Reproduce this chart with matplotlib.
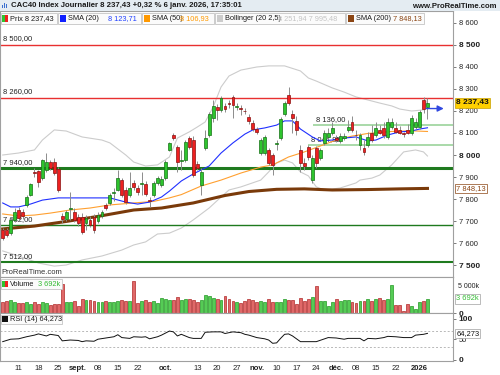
import numpy as np
import matplotlib
matplotlib.use('Agg')
import matplotlib.pyplot as plt
import matplotlib.transforms as mtransforms
from matplotlib.patches import Rectangle

plt.rcParams['font.family'] = ['Liberation Sans', 'DejaVu Sans']

W, H = 500, 375

# daily candles, 5 Aug 2025 .. 6 Jan 2026 (index = trading day)
opens = [7659, 7659, 7645, 7705, 7750, 7741, 7773, 7818, 7923, 7927,
         7895, 7932, 7968, 7968, 7936, 7723, 7709, 7755, 7741, 7718,
         7718, 7691, 7705, 7718, 7700, 7723, 7773, 7782, 7827, 7841,
         7886, 7841, 7818, 7873, 7850, 7868, 7868, 7795, 7818, 7873,
         7864, 7895, 8023, 8091, 8036, 7973, 7977, 8077, 8068, 7959,
         7864, 8032, 8091, 8168, 8218, 8205, 8223, 8236, 8264, 8218,
         8214, 8200, 8173, 8145, 8118, 8009, 8009, 8023, 8000, 8050,
         8077, 8186, 8273, 8186, 8155, 8023, 7964, 8036, 7886, 8032,
         7986, 8055, 8082, 8100, 8077, 8064, 8077, 8114, 8150, 8091,
         8045, 8032, 8045, 8100, 8091, 8114, 8123, 8082, 8127, 8123,
         8114, 8100, 8114, 8100, 8127, 8127, 8250, 8218]
highs = [7668, 7668, 7714, 7759, 7764, 7755, 7818, 7873, 7941, 7932,
         7982, 8009, 7977, 7986, 7945, 7736, 7750, 7832, 7759, 7732,
         7736, 7727, 7723, 7732, 7741, 7750, 7782, 7827, 7850, 7932,
         7895, 7855, 7923, 7886, 7864, 7923, 7882, 7809, 7882, 7905,
         7905, 7977, 8059, 8100, 8045, 8023, 8068, 8086, 8086, 7973,
         7941, 8114, 8195, 8250, 8232, 8268, 8236, 8250, 8273, 8236,
         8227, 8214, 8186, 8159, 8127, 8077, 8091, 8032, 8009, 8068,
         8173, 8245, 8309, 8205, 8177, 8045, 7986, 8045, 8000, 8041,
         8032, 8114, 8123, 8150, 8091, 8100, 8100, 8159, 8177, 8114,
         8100, 8068, 8105, 8136, 8150, 8136, 8150, 8168, 8168, 8150,
         8132, 8105, 8141, 8182, 8168, 8205, 8264, 8259]
lows = [7614, 7627, 7636, 7695, 7700, 7709, 7764, 7814, 7900, 7855,
        7886, 7923, 7932, 7909, 7832, 7691, 7700, 7705, 7695, 7677,
        7641, 7659, 7673, 7645, 7691, 7714, 7750, 7773, 7791, 7836,
        7809, 7777, 7809, 7841, 7818, 7818, 7814, 7764, 7809, 7864,
        7855, 7886, 8018, 8068, 7923, 7932, 7968, 8027, 7900, 7932,
        7818, 8023, 8082, 8150, 8159, 8195, 8195, 8214, 8168, 8205,
        8182, 8186, 8141, 8109, 8095, 8000, 8000, 7955, 7909, 8023,
        8068, 8177, 8227, 8100, 8091, 7923, 7932, 7977, 7873, 7941,
        7977, 8045, 8073, 8091, 8059, 8055, 8068, 8105, 8105, 8068,
        8023, 8000, 8036, 8059, 8082, 8095, 8077, 8073, 8118, 8100,
        8095, 8082, 8095, 8091, 8118, 8118, 8190, 8164]
closes = [7623, 7636, 7705, 7741, 7714, 7723, 7809, 7868, 7918, 7877,
          7977, 7968, 7941, 7918, 7841, 7709, 7741, 7759, 7705, 7691,
          7650, 7714, 7682, 7659, 7727, 7741, 7759, 7818, 7832, 7895,
          7818, 7786, 7850, 7855, 7832, 7873, 7823, 7791, 7873, 7895,
          7891, 7968, 8055, 8077, 7968, 7977, 8059, 8036, 7909, 7941,
          7923, 8077, 8186, 8223, 8205, 8259, 8209, 8232, 8227, 8220,
          8209, 8198, 8155, 8118, 8105, 8068, 8082, 7964, 7955, 8055,
          8164, 8236, 8236, 8168, 8114, 7964, 7950, 7991, 7986, 7964,
          8023, 8100, 8100, 8123, 8068, 8086, 8086, 8127, 8114, 8089,
          8091, 8014, 8082, 8068, 8123, 8100, 8091, 8150, 8150, 8105,
          8100, 8095, 8100, 8168, 8150, 8195, 8211.2, 8237.43]
# volume in thousands
volumes = [2838, 3173, 3431, 2838, 2580, 2761, 3019, 2399, 2915, 2322,
           2838, 2580, 2141, 2503, 2503, 7559, 2915, 2915, 3173, 1883,
           3689, 3431, 3535, 3173, 2838, 3019, 3277, 2915, 2838, 3173,
           3431, 3277, 3173, 8333, 2657, 3173, 3354, 2915, 3173, 2761,
           3870, 3612, 3431, 3354, 4205, 3431, 3612, 3793, 3535, 2915,
           3431, 4825, 4463, 4051, 3793, 3535, 4463, 3793, 3173, 2838,
           2761, 3173, 3612, 3431, 3019, 3173, 2838, 3689, 2838, 2838,
           2838, 3612, 3431, 3354, 2399, 3870, 3277, 3612, 4128, 7043,
           3277, 3096, 1883, 2838, 3612, 3277, 3354, 3354, 2838, 2657,
           3173, 3096, 3612, 3277, 3612, 4051, 3431, 3689, 7301, 2141,
           2141, 593, 2322, 1987, 1032, 2838, 3277, 3692]

# indicators (index, value)
sma20_idx = [0, 2, 4, 7, 10, 14, 20, 27, 31, 34, 37, 40, 42, 45, 48, 50, 52, 55, 58,
             61, 63, 66, 69, 71, 73, 75, 78, 80, 83, 86, 89, 92, 94, 97, 100, 103, 105, 107]
sma20_val = [7782, 7764, 7764, 7777, 7795, 7805, 7805, 7805, 7786, 7777, 7786, 7809, 7836,
             7882, 7914, 7932, 7950, 8009, 8055, 8095, 8114, 8123, 8136, 8155, 8155, 8118,
             8082, 8064, 8068, 8077, 8082, 8064, 8068, 8091, 8105, 8109, 8118, 8123.71]
sma50_idx = [0, 4, 8, 12, 17, 22, 27, 33, 38, 42, 45, 50, 55, 60, 65, 68, 72, 76, 80,
             84, 88, 92, 98, 103, 107]
sma50_val = [7732, 7723, 7727, 7736, 7750, 7759, 7773, 7782, 7789, 7805, 7820, 7859, 7886,
             7918, 7945, 7955, 7991, 8014, 8041, 8068, 8086, 8098, 8107, 8110, 8106.93]
sma200_idx = [0, 8, 16, 24, 33, 40, 48, 56, 62, 69, 76, 83, 92, 100, 107]
sma200_val = [7664, 7677, 7698, 7721, 7750, 7759, 7782, 7816, 7834, 7844, 7846, 7841,
              7843, 7846, 7848.13]
bb_up_idx = [0, 4, 8, 10, 13, 16, 20, 25, 27, 31, 33, 36, 39, 42, 44, 47, 49, 51, 53, 55,
             57, 60, 64, 67, 71, 75, 77, 79, 83, 86, 89, 92, 95, 98, 100, 103, 106, 107]
bb_up_val = [8000, 8009, 8023, 8068, 8114, 8109, 8082, 8068, 8055, 8000, 7968, 7950, 7955,
             7991, 8077, 8105, 8127, 8150, 8218, 8309, 8359, 8386, 8400, 8405, 8405, 8382,
             8350, 8336, 8305, 8286, 8264, 8250, 8236, 8223, 8209, 8200, 8205, 8251.94]
bb_lo_idx = [0, 4, 9, 13, 16, 20, 25, 30, 33, 36, 39, 42, 45, 48, 52, 55, 57, 60, 65, 67,
             69, 71, 73, 75, 77, 79, 81, 85, 89, 90, 93, 95, 98, 101, 104, 106, 107]
bb_lo_val = [7564, 7541, 7509, 7495, 7500, 7523, 7541, 7568, 7591, 7605, 7641, 7645, 7668,
             7705, 7759, 7809, 7841, 7855, 7886, 7923, 7964, 7977, 7964, 7923, 7905, 7855,
             7841, 7850, 7873, 7886, 7895, 7909, 7955, 8014, 8023, 8014, 7995.48]
rsi_idx = [0, 2, 4, 6, 8, 9, 11, 12, 14, 15, 17, 19, 20, 21, 23, 24, 26, 28, 29, 30,
           32, 33, 35, 36, 37, 39, 40, 42, 43, 44, 45, 47, 48, 50, 51, 53, 55, 56, 58, 60,
           61, 62, 64, 66, 67, 68, 69, 70, 71, 72, 73, 75, 77, 79, 82, 84, 86, 87, 90, 91,
           92, 94, 96, 97, 99, 101, 103, 104, 106, 107]
rsi_val = [44, 50, 51, 56, 60, 63, 58, 62, 59, 46, 48, 47, 44, 46, 45, 50, 53, 56, 61, 54,
           52, 56, 55, 56, 51, 56, 60, 70, 68, 58, 62, 54, 52, 52, 67, 68, 68, 64, 68, 66,
           62, 60, 54, 51, 48, 40, 41, 52, 62, 63, 58, 44, 44, 44, 54, 53, 50, 52, 52, 46,
           52, 51, 54, 57, 56, 54, 54, 60, 62, 64.273]

# horizontal levels
red_levels = [8500, 8260]
green_levels = [7940, 7682, 7512]
green_widths = [2.2, 1.0, 1.5]
light_levels = [8136, 8044.85]
light_start = [78.2, 77.0]
prev_close = 8211.2

tick_idx = [4, 9, 14, 19, 24, 29, 34, 41, 49, 54, 59, 64, 69, 74, 79, 84, 89, 94, 99, 105]
tick_lab = ['11', '18', '25', 'sept.', '08', '15', '22', 'oct.', '13', '20', '27', 'nov.',
            '10', '17', '24', 'déc.', '08', '15', '22', '2026']
bold_lab = {'sept.', 'oct.', 'nov.', 'déc.', '2026'}


def fr(v, d=2):
    s = f"{v:,.{d}f}"
    return s.replace(',', ' ').replace('.', ',')


def fx(x):
    return x / W


def fy(y):
    return 1 - y / H


o = np.array(opens, float)
hi = np.array(highs, float)
lo = np.array(lows, float)
c = np.array(closes, float)
idx = np.arange(len(c))
up = c >= o

fig = plt.figure(figsize=(W / 100, H / 100), dpi=100)
fig.patch.set_facecolor('white')

xl = (-0.68, 113.43)
ax = fig.add_axes([0, fy(277), fx(453), 266 / H])
axv = fig.add_axes([0, fy(313.3), fx(453), 36.3 / H])
axr = fig.add_axes([0, fy(361), fx(453), 47.7 / H])

for a in (ax, axv, axr):
    a.set_xlim(*xl)
    for s in a.spines.values():
        s.set_color('#a0a0a0')
        s.set_linewidth(0.8)
    a.yaxis.tick_right()
    a.tick_params(axis='y', length=2.5, width=0.6, color='#666666', pad=1.5,
                  labelsize=5.4, labelcolor='#222222')
    a.tick_params(axis='x', length=0)

ax.set_xticks([])
axv.set_xticks([])

# ---- price panel ----
ax.set_ylim(7445.5, 8654.5)
ax.set_yticks(np.arange(7500, 8601, 100))
ax.set_yticklabels([fr(v, 0) for v in np.arange(7500, 8601, 100)])
for lab, v in zip(ax.get_yticklabels(), np.arange(7500, 8601, 100)):
    if v % 500 == 0:
        lab.set_fontweight('bold')
        lab.set_fontsize(6)

ax.plot(bb_up_idx, bb_up_val, color='#cccccc', lw=0.8, zorder=1)
ax.plot(bb_lo_idx, bb_lo_val, color='#cccccc', lw=0.8, zorder=1)

lt = mtransforms.blended_transform_factory(ax.transAxes, ax.transData)
for lv in red_levels:
    ax.axhline(lv, color='#e83030', lw=1.0, zorder=2)
    ax.annotate(fr(lv), (0.0, lv), xycoords=lt, xytext=(2, 2), textcoords='offset points',
                fontsize=5.4, color='#222222', va='bottom')
for lv, lw in zip(green_levels, green_widths):
    ax.axhline(lv, color='#1e7a1e', lw=lw, zorder=2)
    ax.annotate(fr(lv), (0.0, lv), xycoords=lt, xytext=(2, 1.5), textcoords='offset points',
                fontsize=5.4, color='#222222', va='bottom')
for lv, st in zip(light_levels, light_start):
    ax.hlines(lv, st, xl[1], color='#a9d9a9', lw=1.4, zorder=2)
    ax.annotate(fr(lv), (st + 0.3, lv), xytext=(1, 1.5), textcoords='offset points',
                fontsize=5.4, color='#222222', va='bottom')

ax.plot(sma200_idx, sma200_val, color='#7a3a0a', lw=2.2, zorder=3)
ax.plot(sma50_idx, sma50_val, color='#ffa030', lw=0.8, zorder=3)
ax.plot(sma20_idx, sma20_val, color='#2030ff', lw=0.8, zorder=3)

ax.vlines(idx, lo, hi, color='#8c8c8c', lw=0.7, zorder=4)
body_b = np.minimum(o, c)
body_h = np.maximum(np.abs(c - o), 3)
ax.bar(idx, body_h, bottom=body_b, width=0.72,
       color=np.where(up, '#2ec42e', '#ee2020'),
       edgecolor=np.where(up, '#167016', '#8a1010'), linewidth=0.5, zorder=5)

ax.annotate('', xy=(idx[-1] + 4.8, prev_close), xytext=(idx[-1] - 1, prev_close),
            arrowprops=dict(arrowstyle='-|>', color='#3048e0', lw=1.0,
                            mutation_scale=9), zorder=6)

rt = mtransforms.blended_transform_factory(ax.transAxes, ax.transData)
ax.text(1.007, c[-1], fr(c[-1]), transform=rt, fontsize=6, fontweight='bold',
        va='center', ha='left', color='#111111', zorder=10, clip_on=False,
        bbox=dict(boxstyle='square,pad=0.15', fc='#ffd000', ec='#c8a000', lw=0.5))
ax.text(1.007, sma200_val[-1], fr(sma200_val[-1]), transform=rt, fontsize=5.4,
        va='center', ha='left', color='#8b4513', zorder=10, clip_on=False,
        bbox=dict(boxstyle='square,pad=0.15', fc='white', ec='#8b4513', lw=0.5))

# ---- volume panel ----
axv.set_ylim(0, 9365)
axv.bar(idx, volumes, width=0.72, color=np.where(up, '#55cc55', '#e06868'),
        edgecolor=np.where(up, '#249a24', '#b02a2a'), linewidth=0.5)
axv.set_yticks([0])
axv.set_yticklabels(['0'])
axv.get_yticklabels()[0].set_fontweight('bold')
axv.get_yticklabels()[0].set_fontsize(6)
fig.text(fx(458), fy(286.5), '5 000k', fontsize=5.0, va='center', ha='left',
         color='#222222')
vt = mtransforms.blended_transform_factory(axv.transAxes, axv.transData)
axv.text(1.007, volumes[-1], fr(volumes[-1], 0) + 'k', transform=vt, fontsize=5.4,
         va='center', ha='left', color='#33bb33', zorder=10, clip_on=False,
         bbox=dict(boxstyle='square,pad=0.15', fc='white', ec='#a0a0a0', lw=0.5))

# ---- RSI panel ----
axr.set_ylim(-3.4, 113.5)
for lv in (70, 30):
    axr.axhline(lv, color='#b8b8b8', lw=0.7, ls=(0, (2, 2)))
axr.plot(rsi_idx, rsi_val, color='#111111', lw=0.7)
axr.set_yticks([0, 50, 100])
axr.set_yticklabels(['0', '50', '100'])
for lab in axr.get_yticklabels():
    if lab.get_text() != '50':
        lab.set_fontweight('bold')
        lab.set_fontsize(6)
rrt = mtransforms.blended_transform_factory(axr.transAxes, axr.transData)
axr.text(1.007, rsi_val[-1], fr(rsi_val[-1], 3), transform=rrt, fontsize=5.4,
         va='center', ha='left', color='#111111', zorder=10, clip_on=False,
         bbox=dict(boxstyle='square,pad=0.15', fc='white', ec='#a0a0a0', lw=0.5))
axr.set_xticks(tick_idx)
axr.set_xticklabels(tick_lab)
axr.tick_params(axis='x', labelsize=5.5, pad=3, labelcolor='#222222')
for lab in axr.get_xticklabels():
    if lab.get_text() in bold_lab:
        lab.set_fontweight('bold')

# ---- header and legends ----
fig.patches.append(Rectangle((0, fy(10.5)), 1, 10.5 / H, transform=fig.transFigure,
                             fc='#e4ecf2', ec='none', zorder=0))
fig.text(fx(11), fy(5.5), 'CAC40 Index Journalier 8 237,43 +0,32 % 6 janv. 2026, 17:35:01',
         fontsize=5.6, fontweight='bold', va='center', color='#1a1a1a')
fig.text(fx(497), fy(6), 'www.ProRealTime.com', fontsize=5.6, fontweight='bold',
         va='center', ha='right', color='#1a1a1a')
for k, hgt in enumerate([3, 5, 4]):
    fig.patches.append(Rectangle((fx(2 + 2 * k), fy(8)), fx(1.2), hgt / H,
                                 transform=fig.transFigure, fc='#3a6fd0', ec='none'))


def legend_box(x0, x1, y0, y1):
    fig.patches.append(Rectangle((fx(x0), fy(y1)), fx(x1 - x0), (y1 - y0) / H,
                                 transform=fig.transFigure, fc='#fbfbfb', ec='#c4c4c4',
                                 lw=0.6, zorder=5))


def swatch(x, y, col, col2=None):
    fig.patches.append(Rectangle((fx(x), fy(y + 3)), fx(6), 6 / H, transform=fig.transFigure,
                                 fc=col, ec='none', zorder=6))
    if col2:
        fig.patches.append(Rectangle((fx(x + 3), fy(y + 3)), fx(3), 6 / H,
                                     transform=fig.transFigure, fc=col2, ec='none', zorder=6))


def ltext(x, y, s, col='#1a1a1a'):
    fig.text(fx(x), fy(y), s, fontsize=5.3, va='center', color=col, zorder=7)


ly = 18.5
legend_box(0.5, 57, 13, 24)
swatch(1.5, ly, '#2ec42e', '#ee2020')
ltext(10, ly, 'Prix ' + fr(c[-1]))
legend_box(58, 141, 13, 24)
swatch(60, ly, '#1020ff')
ltext(68, ly, 'SMA (20)')
ltext(108, ly, fr(sma20_val[-1]), '#2040ff')
legend_box(142, 214, 13, 24)
swatch(144, ly, '#ff9900')
ltext(152, ly, 'SMA (50)')
ltext(180, ly, fr(sma50_val[-1]), '#ff9900')
legend_box(215, 345, 13, 24)
swatch(217, ly, '#cccccc')
ltext(225, ly, 'Bollinger (20 2,5)')
ltext(278, ly, fr(bb_up_val[-1]) + ' ' + fr(bb_lo_val[-1]), '#c4c4c4')
legend_box(346, 424, 13, 24)
swatch(348, ly, '#8b4513')
ltext(356, ly, 'SMA (200)')
ltext(393, ly, fr(sma200_val[-1]), '#8b4513')

legend_box(0.5, 62, 279, 289)
swatch(1.5, 284, '#2ec42e', '#ee2020')
ltext(10, 284, 'Volume')
ltext(38, 284, fr(volumes[-1], 0) + 'k', '#33bb33')
legend_box(0.5, 62, 314.5, 324)
swatch(1.5, 319.3, '#111111')
ltext(10, 319.3, 'RSI (14) ' + fr(rsi_val[-1], 3))

fig.text(fx(1), fy(273), 'ProRealTime.com', fontsize=5.5, va='center', color='#333333')

fig.savefig('out.png', dpi=100)
